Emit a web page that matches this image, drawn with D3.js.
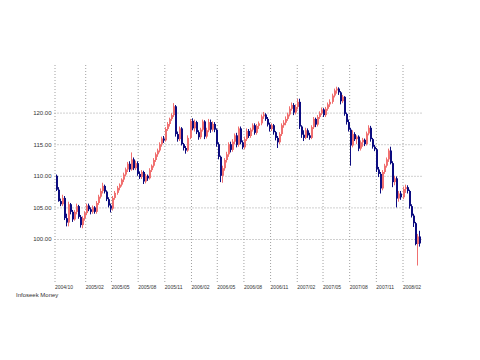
<!DOCTYPE html>
<html>
<head>
<meta charset="utf-8">
<script src="https://cdn.jsdelivr.net/npm/d3@7"></script>
<style>
  html, body { margin: 0; padding: 0; background: #fff; }
  svg { display: block; }
  text { font-family: "Liberation Sans", Arial, sans-serif; fill: #333; }
</style>
</head>
<body>
<svg id="chart" width="480" height="360"></svg>
<script>
// ---- data (weekly candles, Friday of each week) ----
const firstWeek = "2004-10-22";
const lastWeek = "2008-03-28";

const open = [110.0,107.8,106.0,105.5,106.5,103.3,102.6,105.5,104.3,103.1,104.3,105.2,103.5,102.2,103.3,104.1,105.3,104.7,104.3,105.0,
104.3,105.7,106.7,107.6,108.4,107.5,106.3,105.3,104.8,106.5,107.3,108.1,108.6,109.4,110.2,111.0,111.9,111.0,112.6,111.2,
112.0,110.3,109.8,110.6,109.1,110.0,109.6,110.9,111.6,112.5,113.4,114.0,115.0,115.9,115.6,117.4,118.2,119.0,119.6,121.0,
116.6,115.8,117.5,115.0,114.4,114.0,116.0,118.7,117.5,118.5,116.9,116.1,117.3,118.6,116.2,117.2,118.5,117.3,118.2,117.3,
115.0,113.0,110.0,111.2,112.5,113.4,115.0,114.1,115.4,116.4,114.9,117.5,115.3,114.5,115.8,117.1,116.3,117.3,118.0,116.8,
117.9,118.3,119.4,119.7,119.0,118.1,117.4,118.0,116.9,116.0,115.3,116.6,118.0,118.4,119.0,119.7,120.6,121.2,120.0,120.9,
121.7,117.8,116.5,116.0,117.2,116.4,116.0,117.7,119.0,118.1,119.3,119.9,120.5,119.6,120.6,121.3,121.7,122.7,123.5,123.8,
123.2,121.8,122.5,119.8,118.5,117.3,114.8,116.6,115.8,116.2,114.3,115.3,115.7,115.0,116.7,117.6,115.8,114.6,114.2,111.0,
110.3,108.0,110.6,111.6,112.6,114.0,112.0,109.0,109.6,106.4,107.2,106.6,107.9,108.2,107.6,105.2,103.7,102.5,99.2,100.4];

const high = [110.2,108.2,106.4,107.0,106.8,104.0,105.9,105.7,104.6,104.6,105.6,105.4,103.8,103.6,104.4,105.6,105.6,105.0,105.3,105.2,
106.0,107.0,108.0,108.9,108.6,107.7,106.6,105.6,106.8,107.6,108.4,108.8,109.6,110.5,111.3,112.2,112.3,113.7,112.9,112.4,
112.3,110.7,110.9,110.8,110.3,110.2,111.2,111.8,112.8,113.7,114.3,115.3,116.2,116.3,117.7,118.5,119.2,119.9,121.5,121.2,
117.0,117.8,117.7,115.2,114.7,116.4,119.0,119.1,118.9,118.7,117.2,117.6,118.9,118.8,117.6,119.0,118.9,118.6,118.5,117.5,
115.3,113.2,111.6,112.8,113.8,115.3,115.4,115.8,116.7,116.8,117.8,117.8,115.6,116.2,117.5,117.4,117.6,118.3,118.3,118.2,
118.6,119.7,120.1,119.9,119.3,118.4,118.3,118.2,117.1,116.3,116.9,118.3,118.8,119.4,120.0,121.0,121.6,121.5,121.3,122.2,
122.2,118.0,117.2,117.6,117.5,116.8,118.0,119.3,119.2,119.6,120.2,120.8,120.7,120.9,121.6,122.1,123.0,123.8,124.1,124.0,
123.4,122.8,122.6,120.0,118.9,117.6,117.2,116.9,116.4,116.4,115.6,116.0,115.9,117.0,118.0,117.9,116.0,114.9,114.4,111.4,
110.6,110.9,111.9,112.9,114.3,114.6,112.3,110.0,109.9,107.6,107.6,108.3,108.6,108.5,107.8,105.5,104.0,102.7,100.8,101.3];

const low = [107.6,105.9,105.2,105.2,103.0,102.0,102.0,103.9,102.7,102.9,103.9,103.2,101.8,101.7,102.9,103.8,104.4,103.9,104.0,104.0,
104.0,105.4,106.4,107.2,107.2,106.0,105.0,104.2,104.5,106.2,107.0,107.7,108.3,109.0,109.9,110.6,110.6,110.8,110.9,110.9,
110.0,109.5,109.5,108.7,108.8,109.2,109.4,110.6,111.3,112.2,113.0,113.7,114.6,115.2,115.4,117.1,117.8,118.7,119.3,116.2,
115.4,115.5,114.8,114.0,113.5,113.8,115.8,117.2,117.0,116.6,115.7,115.8,117.0,115.8,115.9,116.9,116.8,117.0,116.9,114.6,
112.6,109.0,108.9,110.8,112.1,113.0,113.7,113.8,115.0,114.5,114.6,115.0,114.2,114.2,115.5,116.0,116.0,117.0,116.5,116.5,
117.4,118.0,119.0,118.7,117.8,117.0,117.1,116.5,115.6,114.4,115.0,116.3,117.6,118.0,118.7,119.4,120.3,119.6,119.7,120.5,
117.4,116.0,115.5,115.8,116.0,115.7,115.8,117.4,117.7,117.8,119.0,119.6,119.3,119.3,120.3,120.9,121.4,122.4,123.0,122.8,
121.3,121.5,119.5,118.1,117.0,111.6,114.5,115.5,115.0,113.9,114.0,114.6,114.7,114.8,116.4,115.4,114.3,113.9,110.6,109.8,
107.2,107.7,110.3,111.3,112.2,111.8,108.2,108.5,105.0,105.9,106.2,106.3,107.3,107.2,104.8,103.4,101.9,99.0,95.8,98.8];

const close = [107.8,106.0,105.5,106.5,103.3,102.6,105.5,104.3,103.1,104.3,105.2,103.5,102.2,103.3,104.1,105.3,104.7,104.3,105.0,104.3,
105.7,106.7,107.6,108.4,107.5,106.3,105.3,104.8,106.5,107.3,108.1,108.6,109.4,110.2,111.0,111.9,111.0,112.6,111.2,112.0,
110.3,109.8,110.6,109.1,110.0,109.6,110.9,111.6,112.5,113.4,114.0,115.0,115.9,115.6,117.4,118.2,119.0,119.6,121.0,116.6,
115.8,117.5,115.0,114.4,114.0,116.0,118.7,117.5,118.5,116.9,116.1,117.3,118.6,116.2,117.2,118.5,117.3,118.2,117.3,115.0,
113.0,110.0,111.2,112.5,113.4,115.0,114.1,115.4,116.4,114.9,117.5,115.3,114.5,115.8,117.1,116.3,117.3,118.0,116.8,117.9,
118.3,119.4,119.7,119.0,118.1,117.4,118.0,116.9,116.0,115.3,116.6,118.0,118.4,119.0,119.7,120.6,121.2,120.0,120.9,121.7,
117.8,116.5,116.0,117.2,116.4,116.0,117.7,119.0,118.1,119.3,119.9,120.5,119.6,120.6,121.3,121.7,122.7,123.5,123.8,123.2,
121.8,122.5,119.8,118.5,117.3,114.8,116.6,115.8,116.2,114.3,115.3,115.7,115.0,116.7,117.6,115.8,114.6,114.2,111.0,110.3,
108.0,110.6,111.6,112.6,114.0,112.0,109.0,109.6,106.4,107.2,106.6,107.9,108.2,107.6,105.2,103.7,102.5,99.2,100.4,99.3];

const yTicks = [100, 105, 110, 115, 120];
const xTickDates = ["2004-10-18","2005-02-01","2005-05-01","2005-08-01","2005-11-01","2006-02-01","2006-05-01",
                    "2006-08-01","2006-11-01","2007-02-01","2007-05-01","2007-08-01","2007-11-01","2008-02-01"];
const xTickLabels = ["2004/10","2005/02","2005/05","2005/08","2005/11","2006/02","2006/05",
                     "2006/08","2006/11","2007/02","2007/05","2007/08","2007/11","2008/02"];
const sourceLabel = "Infoseek Money";

// ---- layout ----
const plotLeft = 54.5, plotRight = 422, plotTop = 65, plotBottom = 282;
const upColor = "#f07070", downColor = "#0c0c80", gridColor = "#a0a0a0";

const parse = d3.utcParse("%Y-%m-%d");
const weeks = d3.utcFriday.range(parse(firstWeek), d3.utcDay.offset(parse(lastWeek), 1));
const data = weeks.map((d, i) => ({ date: d, o: open[i], h: high[i], l: low[i], c: close[i] }));

const svg = d3.select("#chart");

const x = d3.scaleUtc()
  .domain([parse("2004-10-18"), parse("2008-02-01")])
  .range([plotLeft, 402.5]);
const y = d3.scaleLinear()
  .domain([100, 120])
  .range([239, 112.6]);

// horizontal grid + y labels
const yAxis = d3.axisLeft(y)
  .tickValues(yTicks)
  .tickFormat(d3.format(".2f"))
  .tickSize(-(plotRight - plotLeft))
  .tickPadding(3);
const gy = svg.append("g").attr("transform", `translate(${plotLeft},0)`).call(yAxis);
gy.select(".domain").remove();
gy.selectAll(".tick line").attr("stroke", gridColor).attr("stroke-dasharray", "1,2");
gy.selectAll(".tick text").attr("font-size", 6).attr("fill", "#333")
  .style("font-family", "'Liberation Sans', Arial, sans-serif");

// vertical grid + x labels
const xAxis = d3.axisBottom(x)
  .tickValues(xTickDates.map(parse))
  .tickFormat((d, i) => xTickLabels[i])
  .tickSize(-(plotBottom - plotTop))
  .tickPadding(3.5);
const gx = svg.append("g").attr("transform", `translate(0,${plotBottom})`).call(xAxis);
gx.select(".domain").remove();
gx.selectAll(".tick line").attr("stroke", gridColor).attr("stroke-dasharray", "1,2");
gx.selectAll(".tick text").attr("font-size", 5).attr("text-anchor", "start").attr("fill", "#333")
  .style("font-family", "'Liberation Sans', Arial, sans-serif");

// candles
const candles = svg.append("g").selectAll("g").data(data).join("g");
candles.append("line")
  .attr("x1", d => Math.round(x(d.date)) + 0.5)
  .attr("x2", d => Math.round(x(d.date)) + 0.5)
  .attr("y1", d => y(d.h))
  .attr("y2", d => y(d.l))
  .attr("stroke", d => d.c >= d.o ? upColor : downColor)
  .attr("stroke-width", 1);
candles.append("rect")
  .attr("x", d => Math.round(x(d.date)))
  .attr("width", 2)
  .attr("y", d => y(Math.max(d.o, d.c)))
  .attr("height", d => Math.max(1, Math.abs(y(d.o) - y(d.c))))
  .attr("fill", d => d.c >= d.o ? upColor : downColor);

// source label
svg.append("text")
  .attr("x", 16).attr("y", 297)
  .attr("font-size", 6)
  .text(sourceLabel);
</script>
</body>
</html>
